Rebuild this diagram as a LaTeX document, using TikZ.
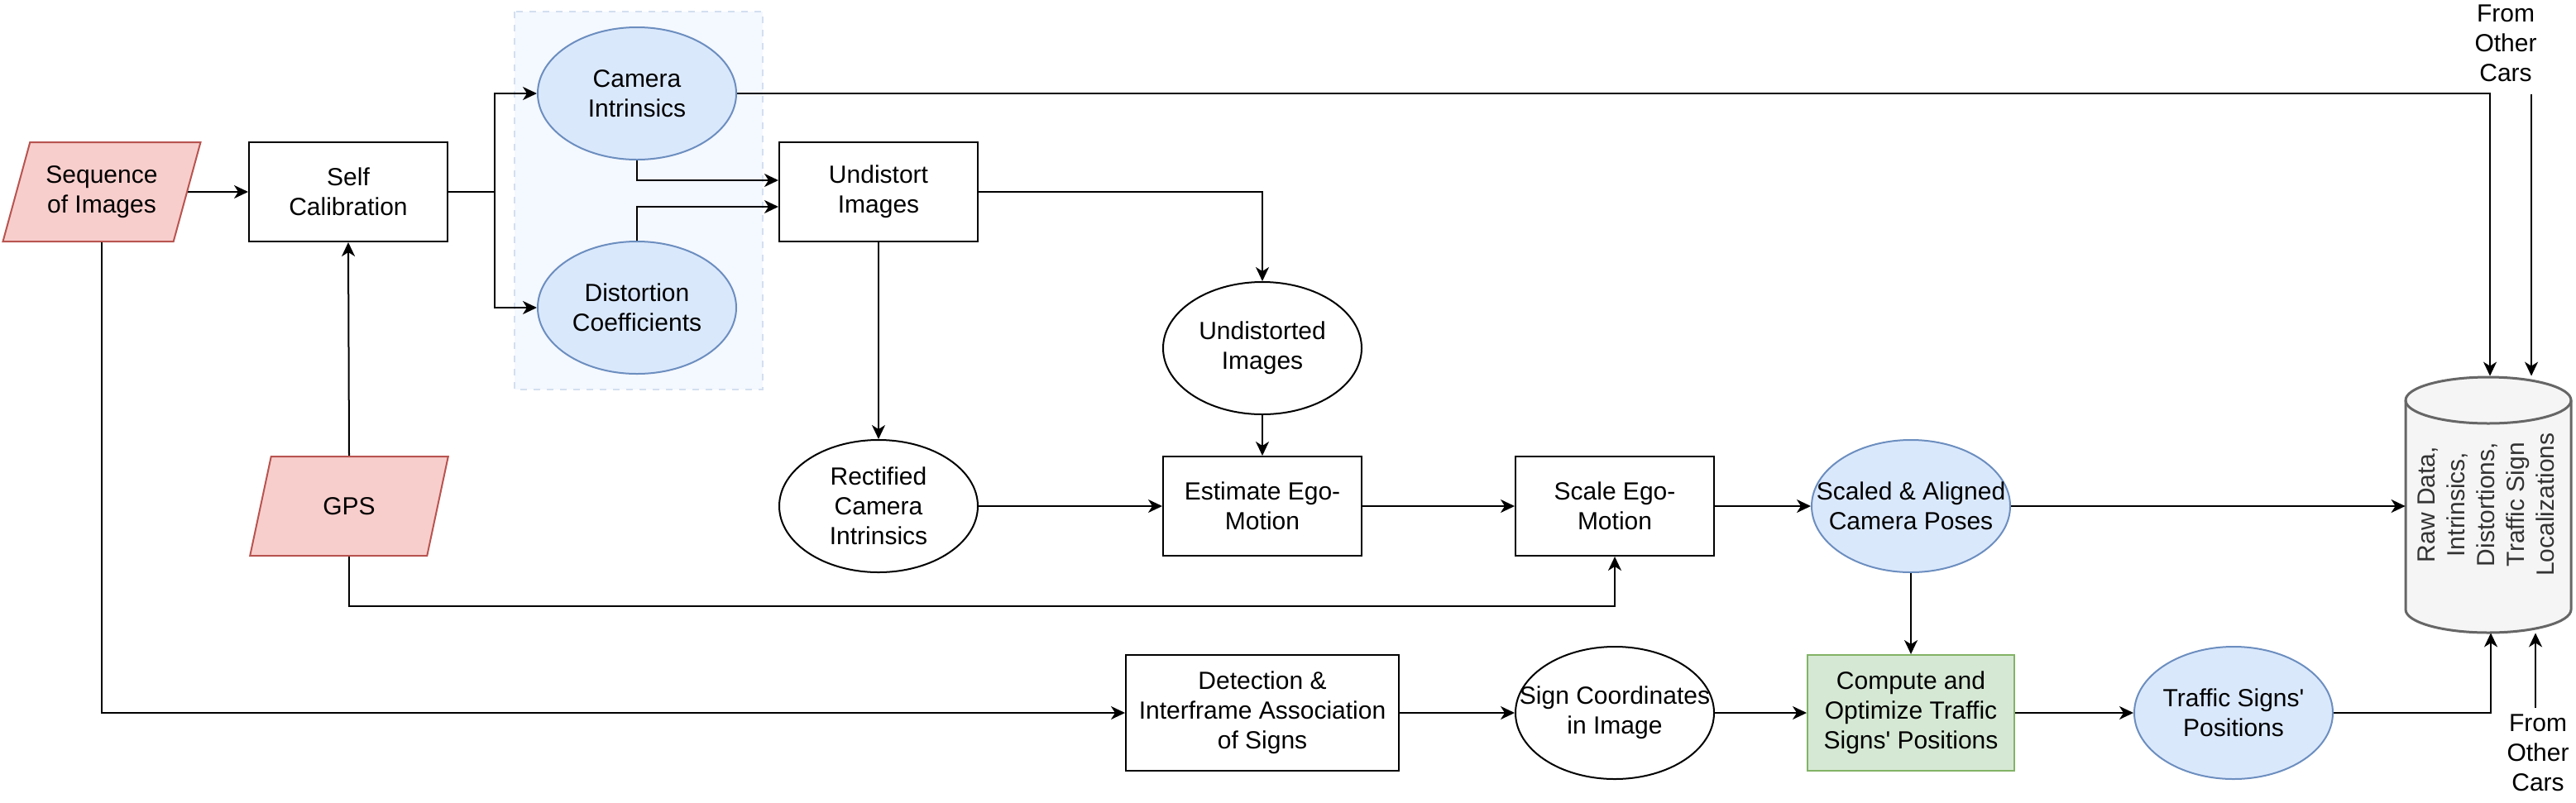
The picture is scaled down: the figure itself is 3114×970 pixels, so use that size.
\documentclass[tikz,border=0pt]{standalone}
\usepackage{fontspec}
\setmainfont{Liberation Sans}
\usepackage{graphicx}
\usetikzlibrary{arrows.meta,shapes.geometric}

\definecolor{infill}{HTML}{F8CECC}
\definecolor{inline}{HTML}{B85450}
\definecolor{ovfill}{HTML}{DAE8FC}
\definecolor{ovline}{HTML}{6C8EBF}
\definecolor{optfill}{HTML}{D5E8D4}
\definecolor{optline}{HTML}{82B366}
\definecolor{grpfill}{HTML}{F4F8FF}
\definecolor{grpline}{HTML}{D3DFF0}
\definecolor{dbfill}{HTML}{F5F5F5}
\definecolor{dbline}{HTML}{666666}
\definecolor{dbtext}{HTML}{333333}

% cylinder caps
\def\rx{50pt}
\def\ry{14pt}
% straight apostrophe
\def\q{\textquotesingle}

\tikzset{
  flow/.style={-{Stealth[length=8.5pt,width=8pt,inset=2.5pt]}, line width=1pt},
  box/.style={rectangle, draw, line width=1pt, align=center, minimum width=120pt, minimum height=60pt, inner sep=2pt},
  inbox/.style={trapezium, trapezium left angle=68, trapezium right angle=112, trapezium stretches=true,
    draw=inline, fill=infill, line width=1pt, minimum width=120pt, minimum height=60pt, inner sep=0pt, align=center},
  oval/.style={ellipse, draw, line width=1pt, minimum width=120pt, minimum height=80pt, inner sep=0pt},
  blueoval/.style={oval, draw=ovline, fill=ovfill},
  otext/.style={label={[align=center]center:#1}},
  dbshape/.style={draw=dbline, fill=dbfill, line width=1.5pt}
}

\begin{document}
\begin{tikzpicture}[x=0.5pt, y=-0.5pt, font=\fontsize{15}{18}\selectfont]
  \useasboundingbox (0,0) rectangle (3114,970);

  % group behind the calibration results
  \filldraw[fill=grpfill, draw=grpline, line width=1pt, dash pattern=on 4pt off 4pt] (622,14) rectangle (922,471);

  % inputs
  \node[inbox] (seq) at (123,232) {Sequence\\of Images};
  \node[inbox] (gps) at (422,612) {GPS};

  % processing steps
  \node[box] (selfcal) at (421,232) {Self\\Calibration};
  \node[box] (undist) at (1062,232) {Undistort\\Images};
  \node[box] (estimate) at (1526,612) {Estimate Ego-\\Motion};
  \node[box] (scale) at (1952,612) {Scale Ego-\\Motion};
  \node[box, minimum width=165pt, minimum height=70pt] (detect) at (1526,862) {Detection \&\\Interframe Association\\of Signs};
  \node[box, minimum width=125pt, minimum height=70pt, draw=optline, fill=optfill] (compute) at (2310,862) {Compute and\\Optimize Traffic\\Signs\q{} Positions};

  % intermediate data
  \node[blueoval, otext={Camera\\Intrinsics}] (camint) at (770,113) {};
  \node[blueoval, otext={Distortion\\Coefficients}] (distcoef) at (770,372) {};
  \node[oval, otext={Undistorted\\Images}] (undistd) at (1526,421) {};
  \node[oval, otext={Rectified\\Camera\\Intrinsics}] (rect) at (1062,612) {};
  \node[blueoval, otext={Scaled \& Aligned\\Camera Poses}] (scaled) at (2310,612) {};
  \node[oval, otext={Sign Coordinates\\in Image}] (signc) at (1952,862) {};
  \node[blueoval, otext={Traffic Signs\q\\Positions}] (tsp) at (2700,862) {};

  % database
  \filldraw[dbshape] (2908,484) -- (2908,737) arc[start angle=180, end angle=360, x radius=\rx, y radius=\ry]
    -- (3108,484) arc[start angle=0, end angle=180, x radius=\rx, y radius=\ry] -- cycle;
  \draw[dbshape, fill=none] (2908,484) arc[start angle=180, end angle=360, x radius=\rx, y radius=\ry];
  \node[minimum width=100pt, minimum height=155pt, inner sep=0pt, text=dbtext] (db) at (3008,610)
    {\rotatebox{90}{\begin{tabular}{@{}c@{}}Raw Data,\\Intrinsics,\\Distortions,\\Traffic Sign\\Localizations\end{tabular}}};

  \node[align=center] (fromtop) at (3029,52) {From\\Other\\Cars};
  \node[align=center] (frombot) at (3068,910) {From\\Other\\Cars};
  \coordinate (ftop) at (3060,114);
  \coordinate (fbot) at ([xshift=-1.5pt]frombot.north);

  % arrows
  \draw[flow] (seq.east) -- (selfcal.west);
  \draw[flow] (selfcal.east) -- ++(56,0) |- (camint.west);
  \draw[flow] (selfcal.east) -- ++(56,0) |- (distcoef.west);
  \draw[flow] (gps.north) -- (selfcal.south);
  \draw[flow] (camint.south) |- ([yshift=7pt]undist.west);
  \draw[flow] (distcoef.north) |- ([yshift=-9pt]undist.west);
  \draw[flow] (undist.east) -| (undistd.north);
  \draw[flow] (undist.south) -- (rect.north);
  \draw[flow] (undistd.south) -- (estimate.north);
  \draw[flow] (rect.east) -- (estimate.west);
  \draw[flow] (estimate.east) -- (scale.west);
  \draw[flow] (gps.south) -- ++(0,60) -| (scale.south);
  \draw[flow] (scale.east) -- (scaled.west);
  \draw[flow] (scaled.east) -- (scaled.east -| db.west);
  \draw[flow] (scaled.south) -- (compute.north);
  \draw[flow] (seq.south) |- (detect.west);
  \draw[flow] (detect.east) -- (signc.west);
  \draw[flow] (signc.east) -- (compute.west);
  \draw[flow] (compute.east) -- (tsp.west);
  \draw[flow] (tsp.east) -| ([xshift=1.5pt]db.south);
  \draw[flow] (camint.east) -| ([xshift=1pt]db.north);
  \draw[flow] (ftop) -- (ftop |- db.north);
  \draw[flow] (fbot) -- (fbot |- db.south);
\end{tikzpicture}
\end{document}
